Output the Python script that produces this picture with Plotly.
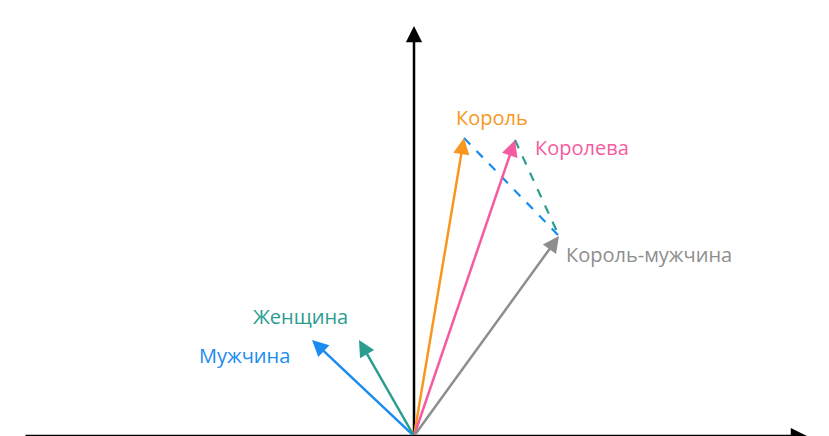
import plotly.graph_objects as go

# vector tips (origin at 0,0)
names = ["Король", "Королева", "Король-мужчина", "Мужчина", "Женщина"]
tip_x = [50, 101, 145, -102, -55]
tip_y = [298, 296, 200, 96, 96]
colors = ["#F7971E", "#F55BA0", "#8E8E8E", "#1A8CF0", "#2A9D8F"]

label_x = [78, 119, 150, -114, -170]
label_y = [319, 289, 182, 120, 81]
label_anchor = ["center", "left", "left", "center", "center"]
label_order = [0, 1, 2, 4, 3]

fig = go.Figure()
fig.add_trace(go.Scatter(x=[0], y=[0], mode="markers", marker=dict(opacity=0), hoverinfo="skip"))

# dashed connectors
fig.add_trace(go.Scatter(x=[tip_x[0], tip_x[2]], y=[tip_y[0], tip_y[2]], mode="lines",
                         line=dict(color=colors[3], width=2.2, dash="dash")))
fig.add_trace(go.Scatter(x=[tip_x[1], tip_x[2]], y=[tip_y[1], tip_y[2]], mode="lines",
                         line=dict(color=colors[4], width=2.2, dash="dash")))

ann = []
# axes
ann.append(dict(x=393, y=0, ax=-390, ay=0, xref="x", yref="y", axref="x", ayref="y",
                showarrow=True, arrowhead=2, arrowsize=1.3, arrowwidth=2.5, arrowcolor="black", text=""))
ann.append(dict(x=0, y=410, ax=0, ay=0, xref="x", yref="y", axref="x", ayref="y",
                showarrow=True, arrowhead=2, arrowsize=1.3, arrowwidth=2.5, arrowcolor="black", text=""))
for i in range(len(names)):
    ann.append(dict(x=tip_x[i], y=tip_y[i], ax=0, ay=0, xref="x", yref="y", axref="x", ayref="y",
                    showarrow=True, arrowhead=2, arrowsize=1.3, arrowwidth=2.5,
                    arrowcolor=colors[i], text=""))
labels = ["Король", "Королева", "Король-мужчина", "Женщина", "Мужчина"]
for j, i in enumerate(label_order):
    ann.append(dict(x=label_x[j], y=label_y[j], xref="x", yref="y", text=labels[j],
                    showarrow=False, xanchor=label_anchor[j],
                    font=dict(size=20, color=colors[i], family="Open Sans")))

fig.update_layout(
    width=829, height=436, margin=dict(l=0, r=0, t=0, b=0),
    plot_bgcolor="white", paper_bgcolor="white", showlegend=False,
    xaxis=dict(range=[-406, 423], visible=False),
    yaxis=dict(range=[-8, 428], visible=False),
    annotations=ann,
)
fig.write_html("out.html")
